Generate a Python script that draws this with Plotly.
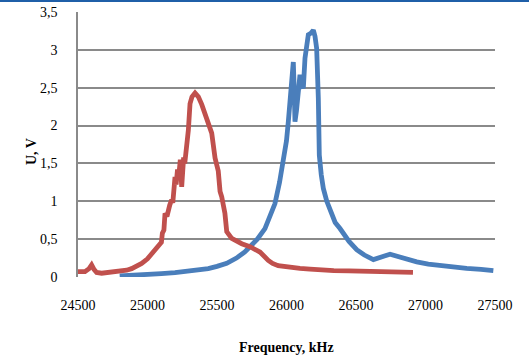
import plotly.graph_objects as go

# Resonance curves: output voltage vs. excitation frequency
red_freq = [24500, 24550, 24580, 24598, 24615, 24634, 24670, 24730, 24790, 24850, 24886,
            24930, 24958, 25000, 25030, 25060, 25090, 25100, 25107, 25118, 25126, 25140,
            25160, 25174, 25182, 25190, 25198, 25206, 25216, 25226, 25236, 25246, 25252,
            25260, 25268, 25282, 25294, 25306, 25320, 25342, 25366, 25390, 25414, 25440,
            25462, 25486, 25509, 25522, 25534, 25557, 25570, 25606, 25642, 25678, 25737,
            25773, 25809, 25869, 25900, 25940, 25977, 26050, 26097, 26169, 26250, 26340,
            26450, 26550, 26650, 26750, 26850, 26910]
red_volt = [0.07, 0.07, 0.11, 0.16, 0.10, 0.06, 0.05, 0.06, 0.07, 0.09, 0.11,
            0.15, 0.18, 0.24, 0.31, 0.36, 0.44, 0.46, 0.58, 0.62, 0.84, 0.80,
            0.95, 1.02, 0.98, 1.20, 1.32, 1.22, 1.42, 1.35, 1.55, 1.19, 1.48,
            1.58, 1.50, 1.72, 1.94, 2.29, 2.38, 2.43, 2.38, 2.28, 2.16, 2.03,
            1.90, 1.57, 1.40, 1.13, 1.06, 0.84, 0.60, 0.51, 0.47, 0.44, 0.40,
            0.36, 0.33, 0.22, 0.18, 0.15, 0.14, 0.12, 0.115, 0.105, 0.09, 0.085,
            0.08, 0.075, 0.07, 0.065, 0.06, 0.06]

blue_freq = [24800, 24900, 25000, 25100, 25198, 25300, 25378, 25437, 25500, 25570,
             25640, 25700, 25737, 25790, 25845, 25880, 25917, 25950, 25977, 26000,
             26013, 26030, 26042, 26049, 26055, 26061, 26072, 26085, 26097, 26109,
             26121, 26133, 26145, 26157, 26175, 26193, 26205, 26217, 26229, 26236,
             26250, 26265, 26290, 26320, 26350, 26385, 26409, 26450, 26505, 26560,
             26625, 26673, 26710, 26745, 26780, 26817, 26880, 26937, 27020, 27104,
             27200, 27296, 27400, 27488]
blue_volt = [0.013, 0.02, 0.03, 0.045, 0.057, 0.075, 0.09, 0.11, 0.14, 0.18,
             0.25, 0.33, 0.40, 0.50, 0.64, 0.80, 0.97, 1.25, 1.52, 1.80,
             2.05, 2.45, 2.60, 2.84, 2.50, 2.05, 2.20, 2.40, 2.67, 2.55,
             2.49, 2.89, 3.05, 3.20, 3.22, 3.26, 3.18, 3.02, 2.36, 1.61,
             1.35, 1.17, 1.00, 0.86, 0.72, 0.64, 0.58, 0.47, 0.36, 0.29,
             0.23, 0.25, 0.28, 0.30, 0.28, 0.26, 0.23, 0.20, 0.17, 0.15,
             0.13, 0.115, 0.10, 0.083]

x_ticks = [24500, 25000, 25500, 26000, 26500, 27000, 27500]
x_tick_text = ["24500", "25000", "25500", "26000", "26500", "27000", "27500"]
y_ticks = [0, 0.5, 1, 1.5, 2, 2.5, 3, 3.5]
y_tick_text = ["0", "0,5", "1", "1,5", "2", "2,5", "3", "3,5"]

RED = "#C0504D"
BLUE = "#4A7EBB"
GRID = "#8A8A8A"
FONT = "Times New Roman, Liberation Serif, serif"

fig = go.Figure()
fig.add_trace(go.Scatter(x=blue_freq, y=blue_volt, mode="lines",
                         line=dict(color=BLUE, width=4.8), showlegend=False))
fig.add_trace(go.Scatter(x=red_freq, y=red_volt, mode="lines",
                         line=dict(color=RED, width=4.8), showlegend=False))

W, H = 529, 357
L, R, T, B = 78, 34, 12, 80
pw, ph = W - L - R, H - T - B

fig.update_layout(
    template="none",
    width=W, height=H,
    margin=dict(l=L, r=R, t=T, b=B, autoexpand=False),
    paper_bgcolor="white", plot_bgcolor="white",
    font=dict(family=FONT, size=14, color="#000000"),
    xaxis=dict(range=[24500, 27500], tickvals=x_ticks, ticktext=x_tick_text,
               showgrid=False, zeroline=False, showline=False, automargin=False,
               ticks="", ticklabelstandoff=18, fixedrange=True,
               tickfont=dict(family=FONT, size=14)),
    yaxis=dict(range=[0, 3.5], tickvals=y_ticks, ticktext=y_tick_text,
               showgrid=True, gridcolor=GRID, gridwidth=1.6, automargin=False,
               zeroline=False, showline=True, linecolor=GRID, linewidth=1.6,
               ticks="", ticklabelstandoff=16, fixedrange=True,
               tickfont=dict(family=FONT, size=14)),
    annotations=[
        dict(text="<b>Frequency, kHz</b>", xref="paper", yref="paper",
             x=0.5, y=-(347 - 277) / ph, xanchor="center", yanchor="middle",
             showarrow=False, font=dict(family=FONT, size=14)),
        dict(text="<b>U, V</b>", xref="paper", yref="paper",
             x=-(L - 31) / pw, y=1 - (152 - T) / ph, xanchor="center", yanchor="middle",
             textangle=-90, showarrow=False, font=dict(family=FONT, size=14)),
    ],
    shapes=[
        # thin frame line along the top edge of the page
        dict(type="line", xref="paper", yref="paper",
             x0=-L / pw, x1=1 + R / pw, y0=1 + (T - 1) / ph, y1=1 + (T - 1) / ph,
             line=dict(color="#1F5FA8", width=2)),
    ],
)

fig.write_html("out.html", config={"displayModeBar": False})
